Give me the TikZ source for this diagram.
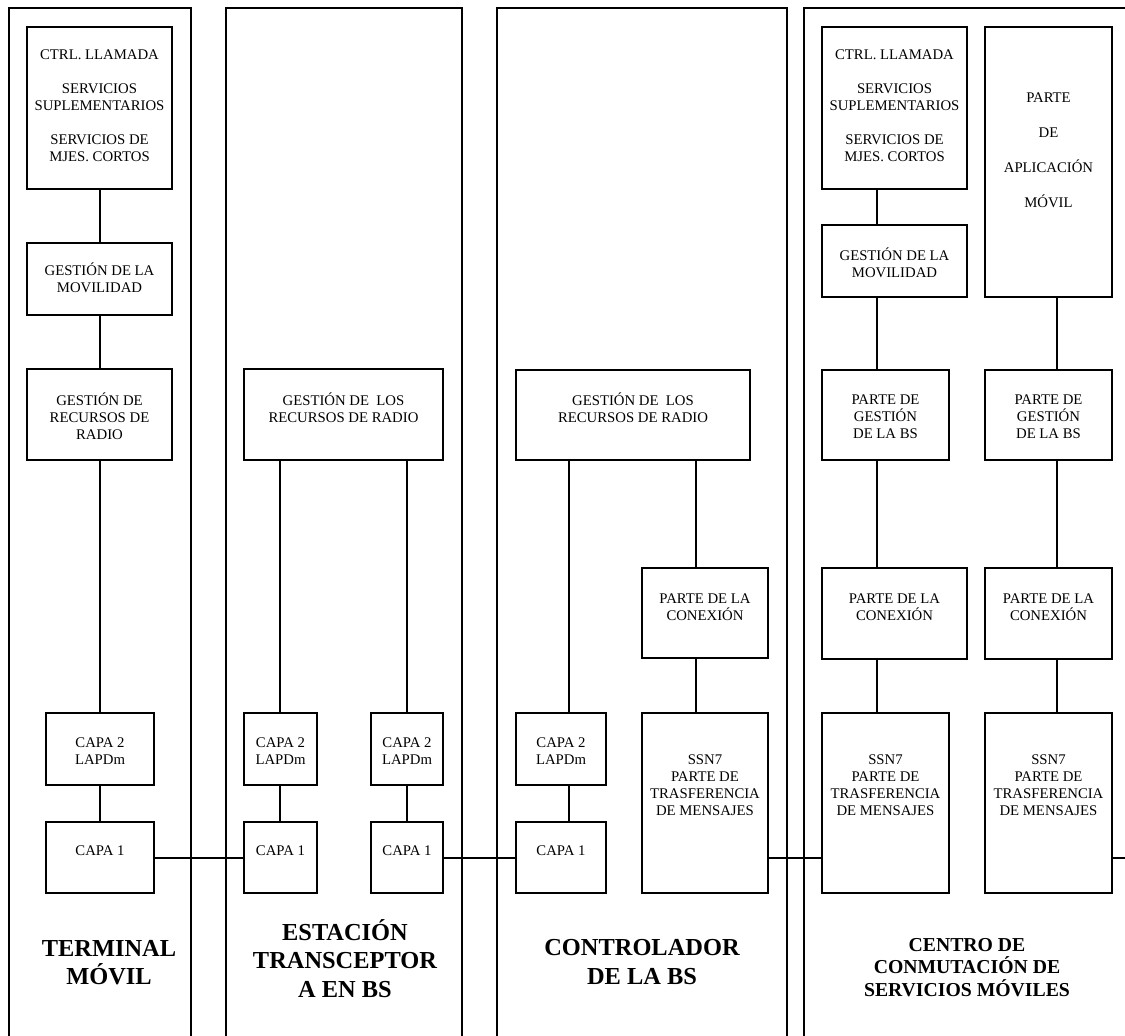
\documentclass[tikz,border=0pt]{standalone}
\usepackage{fontspec}
\setmainfont{Liberation Serif}
\usetikzlibrary{fit}
\begin{document}
\begin{tikzpicture}[x=1bp,y=-1bp,
  blk/.style={draw, line width=1.4bp, inner sep=0pt},
  txt/.style={align=center, font=\fontsize{14.8}{17}\selectfont, inner sep=0pt},
  ttl/.style={align=center, font=\bfseries\fontsize{24.5}{28.5}\selectfont, inner sep=0pt},
  ttlsm/.style={align=center, font=\bfseries\fontsize{19.8}{22.5}\selectfont, inner sep=0pt},
  wire/.style={line width=1.4bp},
  panel/.style={line width=1.4bp}]
\useasboundingbox (0,0) rectangle (1125,1036);
\clip (0,0) rectangle (1125,1036);

% ---------- columns (open at the bottom) ----------
\draw[panel] (9,1045) |- (191,8) -- (191,1045);
\draw[panel] (226,1045) |- (462,8) -- (462,1045);
\draw[panel] (497,1045) |- (787,8) -- (787,1045);
\draw[panel] (804,1045) |- (1132,8) -- (1132,1045);

% helper x positions for the vertical links
\coordinate (xtm) at (100,0);
\coordinate (xbtsa) at (280,0);
\coordinate (xbtsb) at (407,0);
\coordinate (xbsca) at (569,0);
\coordinate (xbscb) at (696,0);
\coordinate (xmsca) at (877,0);
\coordinate (xmscb) at (1057,0);
\coordinate (lk) at (0,858);
\coordinate (edge) at (1125,858);

% ---------- terminal movil ----------
\node[blk, fit={(27,27) (172,189)}] (tm1) {};
\node[txt] (tm1t) at (99.5,106) {CTRL. LLAMADA\\[17bp]SERVICIOS\\SUPLEMENTARIOS\\[17bp]SERVICIOS DE\\MJES. CORTOS};
\node[blk, fit={(27,243) (172,315)}] (tm2) {};
\node[txt] (tm2t) at (99.5,277.5) {GESTIÓN DE LA\\MOVILIDAD};
\node[blk, fit={(27,369) (172,460)}] (tm3) {};
\node[txt] (tm3t) at (99.5,416.5) {GESTIÓN DE\\RECURSOS DE\\RADIO};
\node[blk, fit={(46,713) (154,785)}] (tm4) {};
\node[txt] (tm4t) at (100,751) {CAPA 2\\LAPDm};
\node[blk, fit={(46,822) (154,893)}] (tm5) {};
\node[txt] (tm5t) at (100,851) {CAPA 1};

\draw[wire] (tm1.south -| xtm) -- (tm2.north -| xtm);
\draw[wire] (tm2.south -| xtm) -- (tm3.north -| xtm);
\draw[wire] (tm3.south -| xtm) -- (tm4.north -| xtm);
\draw[wire] (tm4.south -| xtm) -- (tm5.north -| xtm);

% ---------- estacion transceptora ----------
\node[blk, fit={(244,369) (443,460)}] (bt1) {};
\node[txt] (bt1t) at (343.5,407.5) {GESTIÓN DE\ \ LOS\\RECURSOS DE RADIO};
\node[blk, fit={(244,713) (317,785)}] (bt2) {};
\node[txt] (bt2t) at (280.5,751) {CAPA 2\\LAPDm};
\node[blk, fit={(244,822) (317,893)}] (bt3) {};
\node[txt] (bt3t) at (280.5,851) {CAPA 1};
\node[blk, fit={(371,713) (443,785)}] (bt4) {};
\node[txt] (bt4t) at (407,751) {CAPA 2\\LAPDm};
\node[blk, fit={(371,822) (443,893)}] (bt5) {};
\node[txt] (bt5t) at (407,851) {CAPA 1};

\draw[wire] (bt1.south -| xbtsa) -- (bt2.north -| xbtsa);
\draw[wire] (bt2.south -| xbtsa) -- (bt3.north -| xbtsa);
\draw[wire] (bt1.south -| xbtsb) -- (bt4.north -| xbtsb);
\draw[wire] (bt4.south -| xbtsb) -- (bt5.north -| xbtsb);

% ---------- controlador de la BS ----------
\node[blk, fit={(516,370) (750,460)}] (bc1) {};
\node[txt] (bc1t) at (633,408) {GESTIÓN DE\ \ LOS\\RECURSOS DE RADIO};
\node[blk, fit={(642,568) (768,658)}] (bc2) {};
\node[txt] (bc2t) at (705,607) {PARTE DE LA\\CONEXIÓN};
\node[blk, fit={(516,713) (606,785)}] (bc3) {};
\node[txt] (bc3t) at (561,751) {CAPA 2\\LAPDm};
\node[blk, fit={(516,822) (606,893)}] (bc4) {};
\node[txt] (bc4t) at (561,851) {CAPA 1};
\node[blk, fit={(642,713) (768,893)}] (bc5) {};
\node[txt] (bc5t) at (705,785.5) {SSN7\\PARTE DE\\TRASFERENCIA\\DE MENSAJES};

\draw[wire] (bc1.south -| xbsca) -- (bc3.north -| xbsca);
\draw[wire] (bc3.south -| xbsca) -- (bc4.north -| xbsca);
\draw[wire] (bc1.south -| xbscb) -- (bc2.north -| xbscb);
\draw[wire] (bc2.south -| xbscb) -- (bc5.north -| xbscb);

% ---------- centro de conmutacion ----------
\node[blk, fit={(822,27) (967,189)}] (ms1) {};
\node[txt] (ms1t) at (894.5,106) {CTRL. LLAMADA\\[17bp]SERVICIOS\\SUPLEMENTARIOS\\[17bp]SERVICIOS DE\\MJES. CORTOS};
\node[blk, fit={(822,225) (967,297)}] (ms2) {};
\node[txt] (ms2t) at (894.5,263) {GESTIÓN DE LA\\MOVILIDAD};
\node[blk, fit={(822,370) (949,460)}] (ms3) {};
\node[txt] (ms3t) at (885.5,416.5) {PARTE DE\\GESTIÓN\\DE LA BS};
\node[blk, fit={(822,568) (967,659)}] (ms4) {};
\node[txt] (ms4t) at (894.5,607) {PARTE DE LA\\CONEXIÓN};
\node[blk, fit={(822,713) (949,893)}] (ms5) {};
\node[txt] (ms5t) at (885.5,785.5) {SSN7\\PARTE DE\\TRASFERENCIA\\DE MENSAJES};

\node[blk, fit={(985,27) (1112,297)}] (ms6) {};
\node[txt, font=\fontsize{14.8}{35}\selectfont] (ms6t) at (1048.5,150) {PARTE\\DE\\APLICACIÓN\\MÓVIL};
\node[blk, fit={(985,370) (1112,460)}] (ms7) {};
\node[txt] (ms7t) at (1048.5,416.5) {PARTE DE\\GESTIÓN\\DE LA BS};
\node[blk, fit={(985,568) (1112,659)}] (ms8) {};
\node[txt] (ms8t) at (1048.5,607) {PARTE DE LA\\CONEXIÓN};
\node[blk, fit={(985,713) (1112,893)}] (ms9) {};
\node[txt] (ms9t) at (1048.5,785.5) {SSN7\\PARTE DE\\TRASFERENCIA\\DE MENSAJES};

\draw[wire] (ms1.south -| xmsca) -- (ms2.north -| xmsca);
\draw[wire] (ms2.south -| xmsca) -- (ms3.north -| xmsca);
\draw[wire] (ms3.south -| xmsca) -- (ms4.north -| xmsca);
\draw[wire] (ms4.south -| xmsca) -- (ms5.north -| xmsca);
\draw[wire] (ms6.south -| xmscb) -- (ms7.north -| xmscb);
\draw[wire] (ms7.south -| xmscb) -- (ms8.north -| xmscb);
\draw[wire] (ms8.south -| xmscb) -- (ms9.north -| xmscb);

% ---------- physical link between the layer-1 blocks ----------
\draw[wire] (tm5.east |- lk) -- (bt3.west |- lk);
\draw[wire] (bt5.east |- lk) -- (bc4.west |- lk);
\draw[wire] (bc5.east |- lk) -- (ms5.west |- lk);
\draw[wire] (ms9.east |- lk) -- (edge);

% ---------- column titles ----------
\node[ttl] (n1) at (109,962.5) {TERMINAL\\MÓVIL};
\node[ttl] (n2) at (345,958.5) {ESTACIÓN\\TRANSCEPTOR\\A EN BS};
\node[ttl] (n3) at (642,962) {CONTROLADOR\\DE LA BS};
\node[ttlsm] (n4) at (967,967.5) {CENTRO DE\\CONMUTACIÓN DE\\SERVICIOS MÓVILES};
\end{tikzpicture}
\end{document}
